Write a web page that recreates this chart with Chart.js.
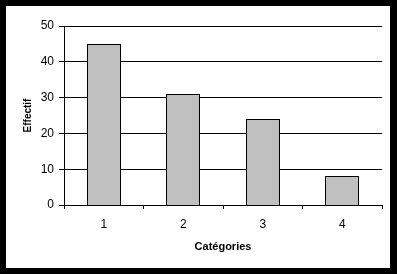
<!DOCTYPE html>
<html lang="fr">
<head>
<meta charset="utf-8">
<title>Effectif par catégorie</title>
<script src="https://cdn.jsdelivr.net/npm/chart.js@4/dist/chart.umd.min.js"></script>
<style>
  html, body {
    margin: 0;
    padding: 0;
    width: 397px;
    height: 274px;
    background: #000;
    overflow: hidden;
  }
  #chart {
    position: absolute;
    left: 6px;
    top: 6px;
    background: #fff;
  }
</style>
</head>
<body>
<canvas id="chart" width="384" height="262"></canvas>
<script>
const categories = ["1", "2", "3", "4"];
const effectifs = [45, 31, 24, 8];
const yTicks = [0, 10, 20, 30, 40, 50];

const FONT = "'Liberation Sans', Arial, sans-serif";

// Snap the bars to whole pixels so the edges stay crisp
const snapBars = {
  id: "snapBars",
  beforeDatasetsDraw(chart) {
    chart.getDatasetMeta(0).data.forEach((bar) => {
      const w = Math.round(bar.width);
      const left = Math.round(bar.x - w / 2);
      bar.x = left + w / 2;
      bar.width = w;
      bar.y = Math.round(bar.y);
      bar.base = Math.round(bar.base);
    });
  },
};

const ctx = document.getElementById("chart").getContext("2d");

new Chart(ctx, {
  type: "bar",
  data: {
    labels: categories,
    datasets: [
      {
        label: "Effectif",
        data: effectifs,
        backgroundColor: "#c0c0c0",
        borderColor: "#000",
        borderWidth: 1,
        borderSkipped: "bottom",
        categoryPercentage: 1,
        barPercentage: 0.428,
      },
    ],
  },
  plugins: [snapBars],
  options: {
    responsive: false,
    animation: false,
    devicePixelRatio: 1,
    layout: {
      padding: { top: 20, right: 8, left: 0, bottom: 0 },
    },
    plugins: {
      legend: { display: false },
      tooltip: { enabled: false },
    },
    scales: {
      x: {
        grid: {
          offset: true,
          drawOnChartArea: false,
          color: "#000",
          tickLength: 4,
        },
        border: { display: true, color: "#000" },
        ticks: {
          color: "#000",
          padding: 8,
          font: { family: FONT, size: 12 },
        },
        title: {
          display: true,
          text: "Catégories",
          color: "#000",
          font: { family: FONT, size: 11, weight: "bold" },
          padding: { top: 0, bottom: 14 },
        },
        afterFit: (scale) => {
          scale.height = 63;
        },
      },
      y: {
        min: 0,
        max: 50,
        grid: {
          color: "#000",
          tickLength: 5,
        },
        border: { display: true, color: "#000" },
        ticks: {
          color: "#000",
          padding: 5,
          stepSize: 10,
          font: { family: FONT, size: 12 },
        },
        afterBuildTicks: (scale) => {
          scale.ticks = yTicks.map((v) => ({ value: v }));
        },
        title: {
          display: true,
          text: "Effectif",
          color: "#000",
          font: { family: FONT, size: 10, weight: "bold" },
          padding: { top: 16, bottom: 0 },
        },
        afterFit: (scale) => {
          scale.width = 58;
        },
      },
    },
  },
});
</script>
</body>
</html>
